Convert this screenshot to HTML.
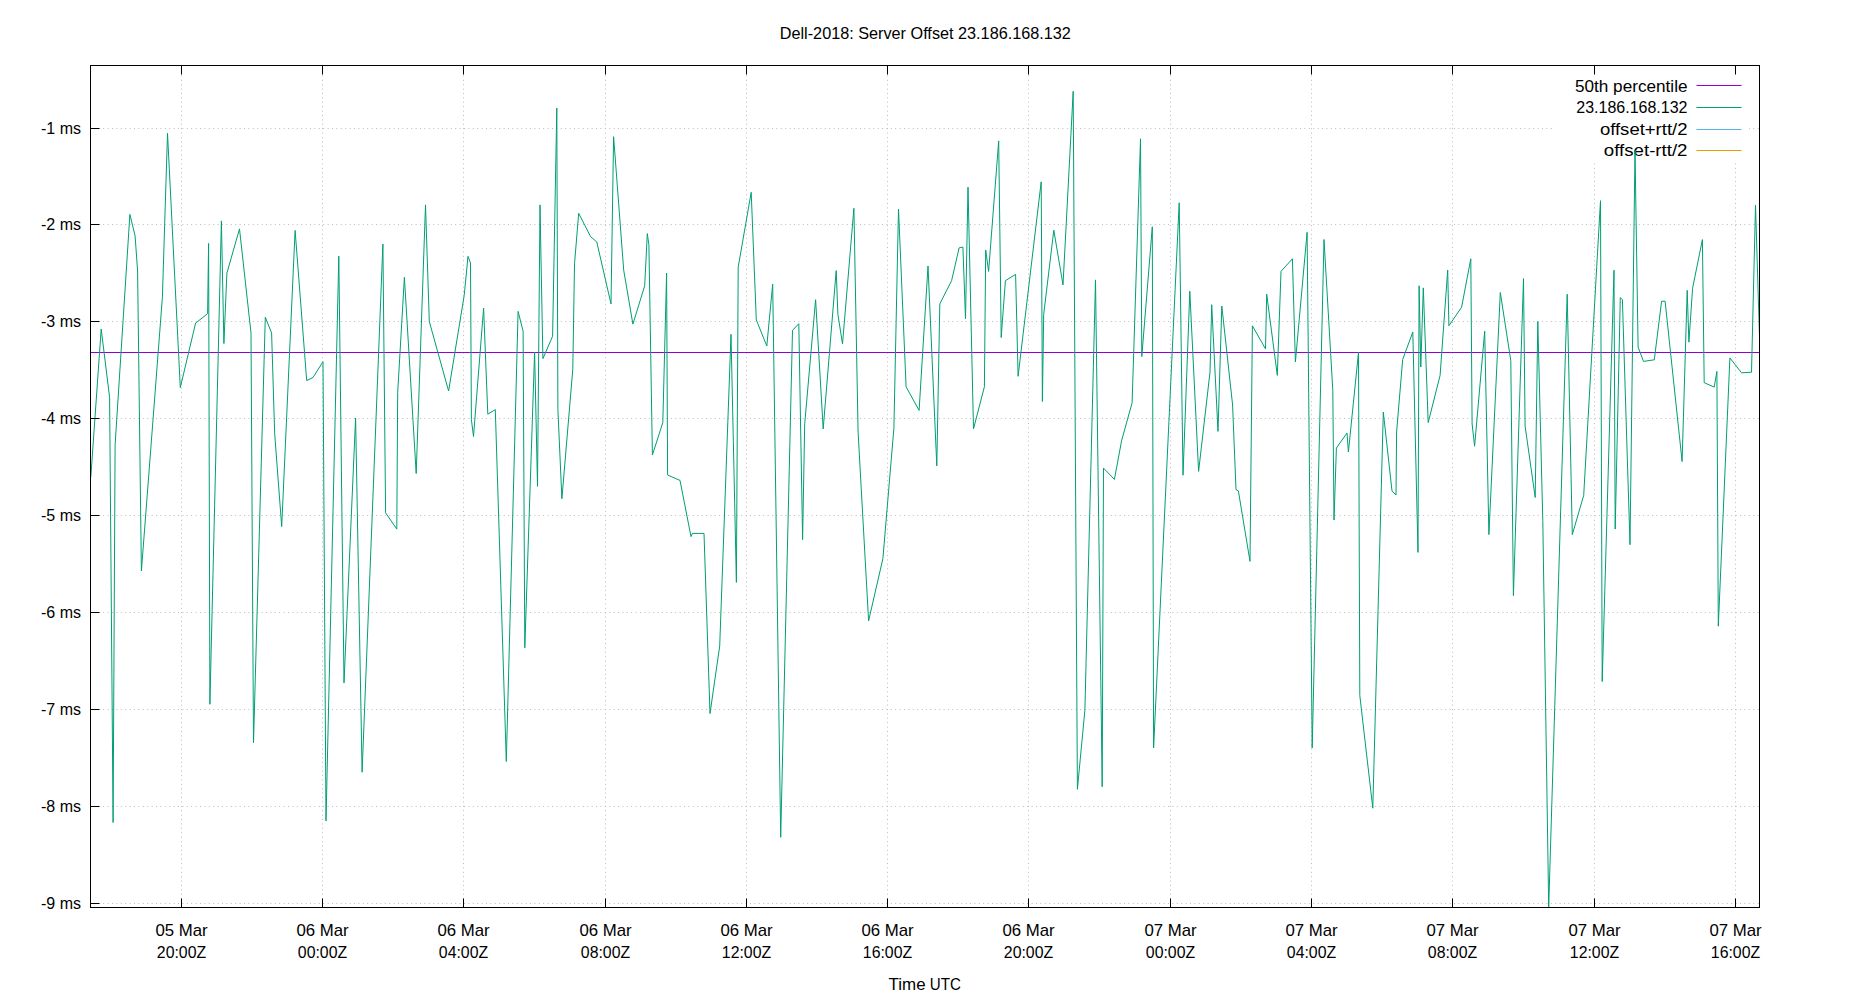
<!DOCTYPE html><html><head><meta charset="utf-8"><style>html,body{margin:0;padding:0;background:#fff;overflow:hidden}svg{display:block}text{font-family:"Liberation Sans",sans-serif;fill:#000}</style></head><body><svg width="1850" height="1000" viewBox="0 0 1850 1000"><rect width="1850" height="1000" fill="#fff"/><path d="M90,128.5H1759M90,224.5H1759M90,321.5H1759M90,418.5H1759M90,515.5H1759M90,612.5H1759M90,709.5H1759M90,806.5H1759M90,903.5H1759M181.5,908V65M322.5,908V65M463.5,908V65M605.5,908V65M746.5,908V65M887.5,908V65M1028.5,908V65M1170.5,908V65M1311.5,908V65M1452.5,908V65M1594.5,908V65M1735.5,908V65" stroke="#bcbcbc" stroke-width="1" stroke-dasharray="1 3.4" fill="none"/><path d="M91,352.5H1759" stroke="#9400d3" stroke-width="1.2" fill="none"/><rect x="1553" y="66" width="196" height="97" fill="#fff"/><text transform="translate(1687.5,91.5) scale(1.073,1)" font-size="16" text-anchor="end">50th percentile</text><path d="M1696.5,85.5H1741.5" stroke="#9400d3" stroke-width="1.2"/><text x="1687.5" y="113" font-size="16" text-anchor="end">23.186.168.132</text><path d="M1696.5,107.5H1741.5" stroke="#009e73" stroke-width="1.2"/><text transform="translate(1687.5,134.5) scale(1.157,1)" font-size="16" text-anchor="end">offset+rtt/2</text><path d="M1696.5,129.5H1741.5" stroke="#56b4e9" stroke-width="1.2"/><text transform="translate(1687.5,156) scale(1.167,1)" font-size="16" text-anchor="end">offset-rtt/2</text><path d="M1696.5,150.5H1741.5" stroke="#e69f00" stroke-width="1.2"/><clipPath id="c"><rect x="90.5" y="65.5" width="1669" height="842"/></clipPath><path d="M90.8,477.2 101.2,329.0 109.6,397.4 113.1,822.5 115.1,444.9 129.9,214.4 135.1,236.0 137.6,271.0 141.4,571.0 162.4,297.3 167.5,133.2 180.3,387.6 195.6,323.1 207.6,313.7 208.6,243.4 209.9,704.3 221.4,220.9 223.9,343.5 226.9,273.1 239.5,228.9 251.0,333.0 253.5,742.6 265.3,317.2 271.6,333.0 274.7,433.8 281.7,526.5 295.1,230.4 306.7,380.6 313.0,377.5 323.0,361.7 326.0,820.9 338.8,256.2 344.0,682.9 355.6,418.0 362.1,772.2 382.9,244.0 385.6,512.8 396.8,529.1 397.7,392.3 404.4,277.3 416.2,473.5 425.5,204.9 429.3,321.5 448.6,391.0 464.2,295.4 468.0,256.3 470.5,263.0 471.4,419.6 473.5,436.5 483.6,308.1 487.8,414.2 495.3,409.6 506.3,761.5 518.1,311.4 523.1,331.2 524.8,647.8 534.6,352.0 537.5,486.4 540.0,204.9 542.9,358.6 552.6,336.3 556.8,108.1 557.9,409.6 561.9,498.8 572.8,369.1 574.5,263.9 578.7,213.3 590.5,236.5 596.8,242.0 611.0,303.9 613.6,136.7 623.7,270.2 632.9,324.1 644.7,285.8 647.3,233.6 648.9,244.9 652.4,455.0 662.8,422.6 666.6,273.1 667.6,475.0 680.0,480.4 691.0,536.6 692.4,533.4 704.0,533.4 710.0,713.5 719.7,646.1 731.0,334.2 736.4,582.4 738.2,267.2 751.2,192.3 756.3,319.9 766.8,346.0 772.7,284.1 780.7,837.3 792.5,330.4 798.8,323.7 802.6,539.6 804.7,423.9 815.6,299.7 823.2,428.9 836.2,270.6 837.9,314.4 842.5,343.9 853.9,208.3 858.1,432.3 868.6,620.9 882.9,558.6 893.9,428.1 898.5,209.1 906.1,386.8 919.1,410.4 928.0,266.0 936.8,465.9 939.8,303.9 951.6,280.7 959.1,247.9 962.9,247.0 965.5,318.6 968.0,187.2 973.5,428.9 984.4,386.8 985.7,250.0 988.6,271.4 998.7,140.9 1001.2,337.5 1005.4,280.7 1015.6,274.4 1018.1,376.3 1041.2,181.8 1042.4,401.5 1043.7,314.4 1053.8,230.2 1063.0,284.9 1073.2,91.3 1077.4,789.3 1084.9,710.1 1095.5,279.9 1102.2,786.8 1103.5,468.1 1114.4,479.4 1121.6,440.7 1132.1,402.8 1140.5,138.8 1141.8,356.5 1152.3,226.8 1153.6,748.0 1179.2,202.8 1183.0,475.2 1189.8,291.2 1198.6,471.4 1210.0,372.1 1211.7,304.7 1218.0,431.4 1221.8,306.0 1232.6,405.0 1236.0,489.6 1238.4,491.0 1250.0,561.4 1252.4,325.8 1265.5,348.9 1266.7,294.2 1277.3,375.4 1281.0,271.4 1292.4,258.8 1295.4,362.0 1307.1,232.3 1312.2,748.0 1324.0,239.5 1332.8,390.2 1334.0,520.0 1336.4,448.0 1347.0,433.0 1348.4,452.0 1358.5,352.3 1359.8,695.4 1372.8,808.2 1383.3,412.1 1392.0,491.0 1396.0,495.0 1396.6,432.0 1402.7,359.4 1412.8,332.1 1418.0,552.4 1419.1,285.8 1420.8,367.0 1423.3,287.9 1428.2,422.6 1440.1,375.4 1447.7,270.2 1448.9,325.8 1461.6,307.2 1470.8,258.8 1472.1,423.9 1474.6,446.2 1484.7,331.2 1488.9,534.6 1500.3,292.5 1510.8,360.7 1513.4,595.6 1523.5,278.6 1525.1,426.0 1535.2,497.5 1537.8,321.5 1542.8,520.7 1548.7,907.2 1567.2,294.2 1572.3,534.6 1583.7,495.4 1600.5,200.7 1602.2,681.5 1614.0,270.2 1615.2,529.1 1620.3,297.6 1622.4,299.7 1630.0,544.7 1635.0,150.2 1638.1,347.1 1643.5,361.4 1654.3,359.8 1661.6,301.2 1665.1,301.2 1682.1,461.5 1687.2,290.4 1688.9,342.2 1692.6,288.2 1702.4,239.6 1704.2,382.7 1714.2,387.1 1716.9,371.4 1718.3,626.2 1729.9,357.9 1741.5,372.8 1751.5,372.2 1755.5,205.3 1762.0,419.0" stroke="#009e73" stroke-width="1" fill="none" stroke-linejoin="miter" clip-path="url(#c)"/><rect x="90.5" y="65.5" width="1669" height="842" stroke="#000" stroke-width="1" fill="none"/><path d="M90.5,128.5h9M90.5,224.5h9M90.5,321.5h9M90.5,418.5h9M90.5,515.5h9M90.5,612.5h9M90.5,709.5h9M90.5,806.5h9M90.5,903.5h9M181.5,907.5v-9M181.5,65.5v9M322.5,907.5v-9M322.5,65.5v9M463.5,907.5v-9M463.5,65.5v9M605.5,907.5v-9M605.5,65.5v9M746.5,907.5v-9M746.5,65.5v9M887.5,907.5v-9M887.5,65.5v9M1028.5,907.5v-9M1028.5,65.5v9M1170.5,907.5v-9M1170.5,65.5v9M1311.5,907.5v-9M1311.5,65.5v9M1452.5,907.5v-9M1452.5,65.5v9M1594.5,907.5v-9M1594.5,65.5v9M1735.5,907.5v-9M1735.5,65.5v9" stroke="#000" stroke-width="1" fill="none"/><text x="81" y="133.5" font-size="16" text-anchor="end">-1 ms</text><text x="81" y="229.5" font-size="16" text-anchor="end">-2 ms</text><text x="81" y="326.5" font-size="16" text-anchor="end">-3 ms</text><text x="81" y="423.5" font-size="16" text-anchor="end">-4 ms</text><text x="81" y="520.5" font-size="16" text-anchor="end">-5 ms</text><text x="81" y="617.5" font-size="16" text-anchor="end">-6 ms</text><text x="81" y="714.5" font-size="16" text-anchor="end">-7 ms</text><text x="81" y="811.5" font-size="16" text-anchor="end">-8 ms</text><text x="81" y="908.5" font-size="16" text-anchor="end">-9 ms</text><text transform="translate(181.5,935.5) scale(1.05,1)" font-size="16" text-anchor="middle">05 Mar</text><text transform="translate(181.5,957.5) scale(0.99,1)" font-size="16" text-anchor="middle">20:00Z</text><text transform="translate(322.5,935.5) scale(1.05,1)" font-size="16" text-anchor="middle">06 Mar</text><text transform="translate(322.5,957.5) scale(0.99,1)" font-size="16" text-anchor="middle">00:00Z</text><text transform="translate(463.5,935.5) scale(1.05,1)" font-size="16" text-anchor="middle">06 Mar</text><text transform="translate(463.5,957.5) scale(0.99,1)" font-size="16" text-anchor="middle">04:00Z</text><text transform="translate(605.5,935.5) scale(1.05,1)" font-size="16" text-anchor="middle">06 Mar</text><text transform="translate(605.5,957.5) scale(0.99,1)" font-size="16" text-anchor="middle">08:00Z</text><text transform="translate(746.5,935.5) scale(1.05,1)" font-size="16" text-anchor="middle">06 Mar</text><text transform="translate(746.5,957.5) scale(0.99,1)" font-size="16" text-anchor="middle">12:00Z</text><text transform="translate(887.5,935.5) scale(1.05,1)" font-size="16" text-anchor="middle">06 Mar</text><text transform="translate(887.5,957.5) scale(0.99,1)" font-size="16" text-anchor="middle">16:00Z</text><text transform="translate(1028.5,935.5) scale(1.05,1)" font-size="16" text-anchor="middle">06 Mar</text><text transform="translate(1028.5,957.5) scale(0.99,1)" font-size="16" text-anchor="middle">20:00Z</text><text transform="translate(1170.5,935.5) scale(1.05,1)" font-size="16" text-anchor="middle">07 Mar</text><text transform="translate(1170.5,957.5) scale(0.99,1)" font-size="16" text-anchor="middle">00:00Z</text><text transform="translate(1311.5,935.5) scale(1.05,1)" font-size="16" text-anchor="middle">07 Mar</text><text transform="translate(1311.5,957.5) scale(0.99,1)" font-size="16" text-anchor="middle">04:00Z</text><text transform="translate(1452.5,935.5) scale(1.05,1)" font-size="16" text-anchor="middle">07 Mar</text><text transform="translate(1452.5,957.5) scale(0.99,1)" font-size="16" text-anchor="middle">08:00Z</text><text transform="translate(1594.5,935.5) scale(1.05,1)" font-size="16" text-anchor="middle">07 Mar</text><text transform="translate(1594.5,957.5) scale(0.99,1)" font-size="16" text-anchor="middle">12:00Z</text><text transform="translate(1735.5,935.5) scale(1.05,1)" font-size="16" text-anchor="middle">07 Mar</text><text transform="translate(1735.5,957.5) scale(0.99,1)" font-size="16" text-anchor="middle">16:00Z</text><text transform="translate(888.6,990) scale(1.06,1)" font-size="16" text-anchor="start">Time</text><text transform="translate(929.8,990) scale(0.946,1)" font-size="16" text-anchor="start">UTC</text><text transform="translate(925.3,39) scale(1.015,1)" font-size="16" text-anchor="middle">Dell-2018: Server Offset 23.186.168.132</text></svg></body></html>
